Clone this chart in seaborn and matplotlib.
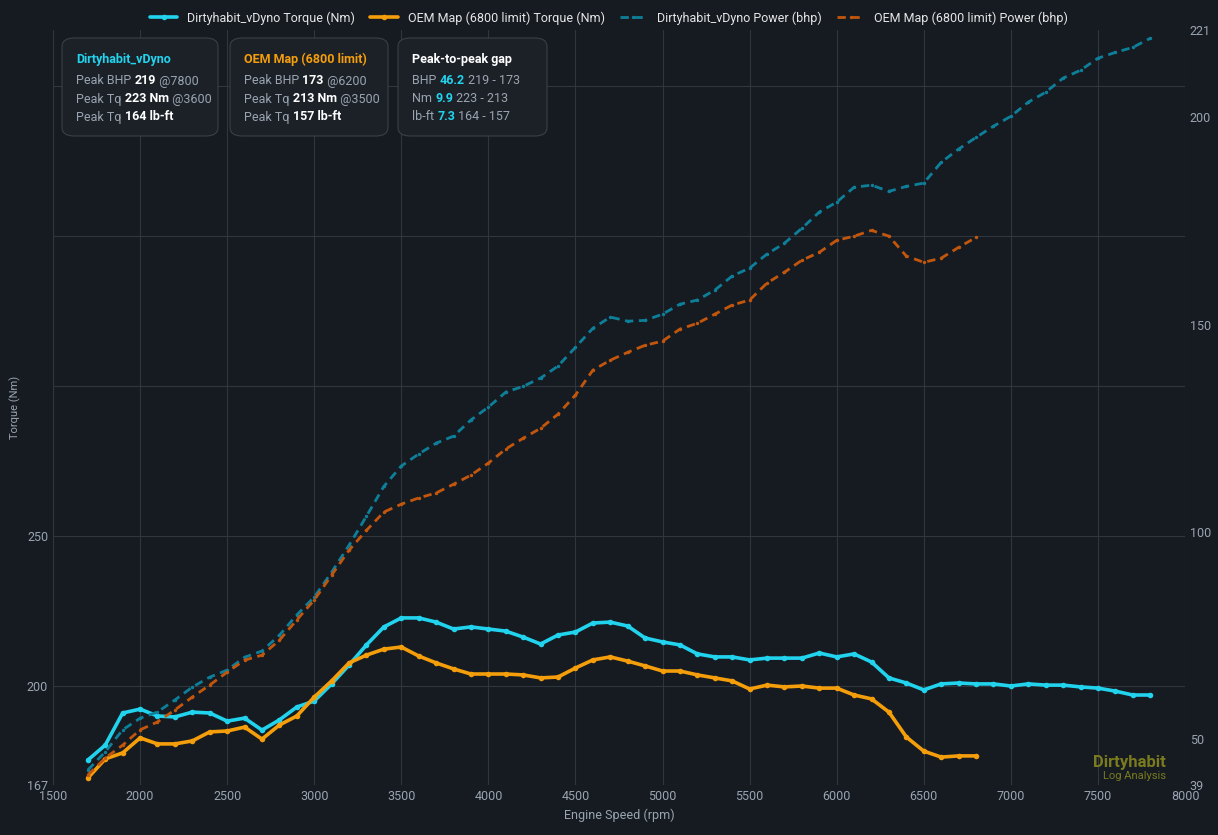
import numpy as np
import pandas as pd
import matplotlib.pyplot as plt
import seaborn as sns
from matplotlib.patches import FancyBboxPatch

rpm_dh = list(range(1700, 7900, 100))
rpm_oem = list(range(1700, 6900, 100))

tq_dh = [175.3, 180.3, 191, 192.3, 190, 189.7, 191.3, 191, 188.3, 189.3, 185.3, 188.7, 193, 195,
         200.7, 207, 213.7, 219.7, 222.7, 222.7, 221.3, 219, 219.7, 219, 218.3, 216.3, 214, 217,
         218, 221, 221.3, 220, 216, 214.7, 213.7, 210.7, 209.7, 209.7, 208.7, 209.3, 209.3, 209.3,
         211, 209.7, 210.7, 208, 202.7, 201, 198.7, 200.7, 201, 200.7, 200.7, 200, 200.7, 200.3,
         200.3, 199.7, 199.3, 198.3, 197, 197]
tq_oem = [169.3, 175.7, 177.7, 182.7, 180.7, 180.7, 181.7, 184.7, 185, 186.3, 182.3, 187, 190,
          196.3, 201.7, 207.7, 210.3, 212.3, 213, 210, 207.7, 205.7, 204, 204, 204, 203.7, 202.7,
          203, 206, 208.7, 209.7, 208.3, 206.7, 205, 205, 203.7, 202.7, 201.7, 199, 200.3, 199.7,
          200, 199.3, 199.3, 197, 195.7, 191.3, 183, 178.3, 176.3, 176.7, 176.7]
pw_dh = [42.6, 47, 52.3, 55.1, 56.6, 59.5, 62.6, 65, 66.7, 69.8, 71.3, 75.1, 80, 84.3, 90.3, 96.8,
         103.8, 111, 115.9, 118.8, 121.4, 123.1, 127, 130.1, 133.7, 135.1, 137.1, 140, 144.5, 149.1,
         151.8, 150.8, 151, 152.5, 154.9, 155.9, 158.3, 161.7, 163.6, 167, 169.6, 173.2, 177.1,
         179.5, 183.1, 183.6, 182.1, 183.3, 184.1, 189.1, 192.3, 195.1, 197.8, 200.2, 203.6, 206,
         209.4, 211.3, 214.2, 215.6, 216.8, 219]
pw_oem = [41.4, 45.5, 48.6, 52.3, 54.2, 57.1, 60.2, 63.1, 66.2, 69.1, 70.3, 73.9, 78.8, 83.6, 89.6,
          95.6, 100.4, 104.8, 106.7, 108.2, 109.4, 111.5, 113.7, 116.6, 120, 122.6, 125, 128.4, 133,
          139, 141.4, 143.3, 145, 146, 148.9, 150.3, 152.5, 154.7, 155.9, 160, 162.6, 165.5, 167.4,
          170.3, 171.3, 172.7, 171.3, 166.5, 165, 166, 168.6, 171]

BG = "#161b22"
GRID = "#30363d"
TXT = "#9aa4b0"
CYAN = "#22d3ee"
ORANGE = "#f59e0b"
CYAN_D = "#0e7f99"
ORANGE_D = "#c2560c"

sns.set_theme(style="dark")
plt.rcParams["font.family"] = ["Roboto", "DejaVu Sans"]

fig = plt.figure(figsize=(12.18, 8.35), dpi=100, facecolor=BG)
ax = fig.add_axes([53/1218, 50/835, 1132/1218, 755/835])
ax.set_facecolor(BG)
ax2 = ax.twinx()

dh = pd.DataFrame({"rpm": rpm_dh, "tq": tq_dh, "pw": pw_dh})
oem = pd.DataFrame({"rpm": rpm_oem, "tq": tq_oem, "pw": pw_oem})

sns.lineplot(data=dh, x="rpm", y="tq", ax=ax, color=CYAN, lw=2.6, marker="o", ms=4, mew=0,
             label="Dirtyhabit_vDyno Torque (Nm)", legend=False)
sns.lineplot(data=oem, x="rpm", y="tq", ax=ax, color=ORANGE, lw=2.6, marker="o", ms=4, mew=0,
             label="OEM Map (6800 limit) Torque (Nm)", legend=False)
sns.lineplot(data=dh, x="rpm", y="pw", ax=ax2, color=CYAN_D, lw=2, ls=(0, (3, 2)), marker="o",
             ms=2.5, mew=0, label="Dirtyhabit_vDyno Power (bhp)", legend=False)
sns.lineplot(data=oem, x="rpm", y="pw", ax=ax2, color=ORANGE_D, lw=2, ls=(0, (3, 2)), marker="o",
             ms=2.5, mew=0, label="OEM Map (6800 limit) Power (bhp)", legend=False)

ax.set_xlim(1500, 8000)
ax.set_ylim(167, 418.7)
ax2.set_ylim(39, 221)
ax.set_xticks(range(1500, 8001, 500))
ax.set_yticks([167, 200, 250, 300, 350, 400])
ax.set_yticklabels(["167", "200", "250", "", "", ""])
ax2.set_yticks([39, 50, 100, 150, 200, 221])
ax.grid(True, color=GRID, lw=0.8)
ax2.grid(False)
for a in (ax, ax2):
    a.tick_params(colors=TXT, labelsize=9, length=0)
    for s in a.spines.values():
        s.set_visible(False)
ax.set_xlabel("Engine Speed (rpm)", color=TXT, fontsize=9)
ax.set_ylabel("Torque (Nm)", color=TXT, fontsize=8)
ax2.set_ylabel("")

h1, l1 = ax.get_legend_handles_labels()
h2, l2 = ax2.get_legend_handles_labels()
fig.legend(h1 + h2, l1 + l2, loc="upper center", bbox_to_anchor=(0.5, 1.0), ncol=4, frameon=False,
           fontsize=9, labelcolor="#e6e6e6", handlelength=2.2, columnspacing=1.2)

# info boxes
boxes = [
    (62, 218, "Dirtyhabit_vDyno", CYAN,
     [("Peak BHP ", "219", " @7800"), ("Peak Tq ", "223 Nm", " @3600"), ("Peak Tq ", "164 lb-ft", "")]),
    (230, 388, "OEM Map (6800 limit)", ORANGE,
     [("Peak BHP ", "173", " @6200"), ("Peak Tq ", "213 Nm", " @3500"), ("Peak Tq ", "157 lb-ft", "")]),
    (398, 547, "Peak-to-peak gap", "#ffffff",
     [("BHP ", "46.2", " 219 - 173"), ("Nm ", "9.9", " 223 - 213"), ("lb-ft ", "7.3", " 164 - 157")]),
]
for x0, x1, title, tc, rows in boxes:
    fig.patches.append(FancyBboxPatch((x0/1218, 1-136/835), (x1-x0)/1218, 98/835,
                                      boxstyle="round,pad=0,rounding_size=0.01",
                                      transform=fig.transFigure, fc="#1c2128", ec="#3a4048", lw=0.8))
    fig.text((x0+14)/1218, 1-59/835, title, color=tc, fontsize=9, fontweight="bold", va="center")
    for i, (a, b, c) in enumerate(rows):
        y = 1-(81+18*i)/835
        t = fig.text((x0+14)/1218, y, a, color=TXT, fontsize=9, va="center")
        fig.canvas.draw()
        bb = t.get_window_extent()
        bcol = CYAN if tc == "#ffffff" else "#ffffff"
        t2 = fig.text(bb.x1/1218, y, b, color=bcol, fontsize=9, fontweight="bold", va="center")
        bb2 = t2.get_window_extent()
        fig.text(bb2.x1/1218, y, c, color=TXT, fontsize=9, va="center")

fig.text(1166/1218, 1-762/835, "Dirtyhabit", color="#7a7a1e", fontsize=12, fontweight="bold", ha="right", va="center")
fig.text(1166/1218, 1-776/835, "Log Analysis", color="#7a7a1e", fontsize=8, ha="right", va="center")

fig.savefig("out.png", dpi=100, facecolor=BG)
